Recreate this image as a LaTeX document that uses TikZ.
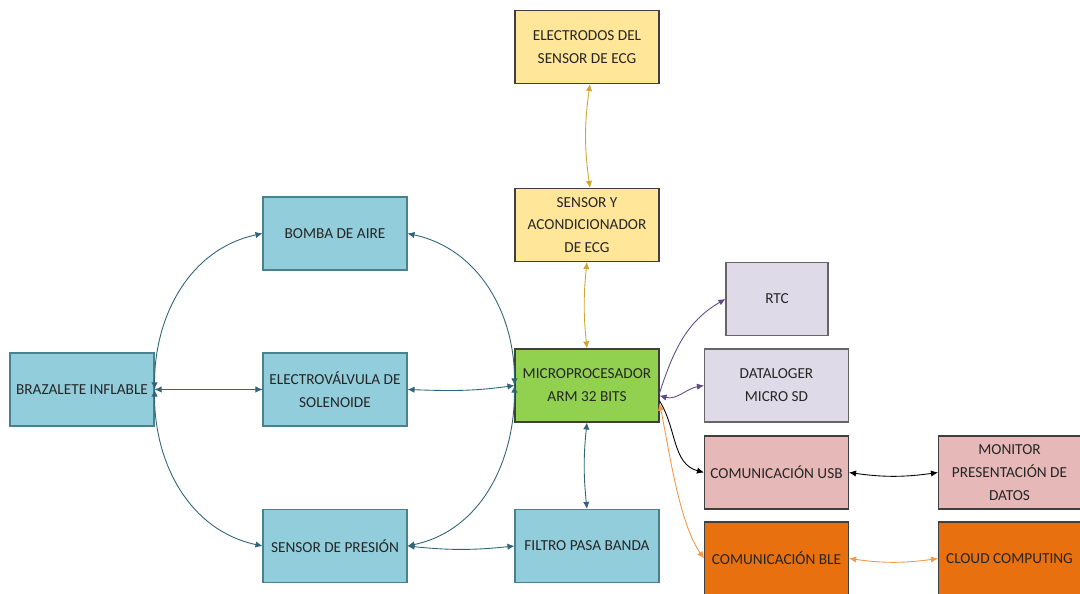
\documentclass[tikz,border=0pt]{standalone}
\usepackage{fontspec}
\setmainfont{Carlito}
\usepackage{tikz}
\usetikzlibrary{arrows.meta}
\definecolor{bluefill}{HTML}{92CDDC}
\definecolor{blueborder}{HTML}{4A8190}
\definecolor{ecgfill}{HTML}{FFE699}
\definecolor{cpufill}{HTML}{92D050}
\definecolor{lavfill}{HTML}{DFDAE8}
\definecolor{pinkfill}{HTML}{E6B9B8}
\definecolor{bleorange}{HTML}{E8700E}
\definecolor{darkborder}{HTML}{3F3F3F}
\definecolor{tealline}{HTML}{2F6577}
\definecolor{goldline}{HTML}{CFA52E}
\definecolor{purpleline}{HTML}{5F4B8B}
\definecolor{orangeline}{HTML}{F79646}

\begin{document}
\begin{tikzpicture}[
    x=0.02cm, y=0.02cm,
    box/.style={rectangle, draw=blueborder, fill=bluefill, line width=0.6pt,
        minimum width=2.88cm, minimum height=1.46cm, align=center,
        inner sep=1pt, text=black!85, font=\fontsize{8.7}{13}\selectfont},
    boxe/.style={box, draw=darkborder, fill=ecgfill},
    boxc/.style={box, draw=darkborder, fill=cpufill},
    boxl/.style={box, draw=black!60, fill=lavfill},
    boxp/.style={box, draw=darkborder, fill=pinkfill},
    boxo/.style={box, draw=darkborder, fill=bleorange},
    tip/.tip={Latex[length=4pt,width=3.6pt]},
    link/.style={tip-tip, line width=0.5pt},
    linkto/.style={-tip, line width=0.5pt}
]
\useasboundingbox (0,0) rectangle (1080,594);

\node[boxe] (electrodos) at (587,547) {ELECTRODOS DEL\\SENSOR DE ECG};
\node[boxe] (acond) at (587,369) {SENSOR Y\\ACONDICIONADOR\\DE ECG};
\node[box] (bomba) at (335,360.5) {BOMBA DE AIRE};
\node[box] (brazalete) at (82,204.5) {BRAZALETE INFLABLE};
\node[box] (valvula) at (335,204.5) {ELECTROVÁLVULA DE\\SOLENOIDE};
\node[boxc] (micro) at (587,208.5) {MICROPROCESADOR\\ARM 32 BITS};
\node[box] (presion) at (335,48) {SENSOR DE PRESIÓN};
\node[box] (filtro) at (587,48) {FILTRO PASA BANDA};
\node[boxl, minimum width=2.04cm] (rtc) at (777,295) {RTC};
\node[boxl] (datalog) at (776.5,208.5) {DATALOGER\\MICRO SD};
\node[boxp] (usb) at (776.5,121.5) {COMUNICACIÓN USB};
\node[boxo] (ble) at (776.5,35.5) {COMUNICACIÓN BLE};
\node[boxp, minimum width=2.84cm] (monitor) at (1009.5,121.5) {MONITOR\\PRESENTACIÓN DE\\DATOS};
\node[boxo, minimum width=2.84cm] (cloud) at (1009.5,35.5) {CLOUD COMPUTING};

% bloque de presion
\draw[link, tealline] (brazalete.east) to[out=90, in=192] (bomba.west);
\draw[link, tealline] (brazalete.east) -- (valvula.west);
\draw[link, tealline] (brazalete.east) to[out=-90, in=168] (presion.west);
\draw[link, tealline] (micro.west) to[out=90, in=-12] (bomba.east);
\draw[link, tealline] (valvula.east) to[out=-2, in=188] (micro.west);
\draw[link, tealline] (micro.west) to[out=-90, in=12] (presion.east);
\draw[link, tealline] (filtro.west) to[bend left=6] (presion.east);
\draw[link, tealline] (micro.south) to[bend right=6] (filtro.north);

% bloque ECG
\draw[link, goldline] (acond.south) to[bend right=6] (micro.north);
\draw[link, goldline] ([xshift=0.06cm]electrodos.south) to[bend right=8] ([xshift=0.06cm]acond.north);

% salidas del micro
\draw[linkto, purpleline] (micro.-6) to[out=72, in=210] (rtc.west);
\draw[link, purpleline] (micro.-8) to[out=-15, in=190] (datalog.west);
\draw[linkto, black] (micro.-12) to[out=-58, in=165] (usb.west);
\draw[link, orangeline] (micro.-14) to[out=-78, in=125, looseness=0.7] (ble.west);
\draw[link, black] (usb.east) to[bend right=8] (monitor.west);
\draw[link, orangeline] (ble.east) to[bend right=8] (cloud.west);
\end{tikzpicture}
\end{document}
